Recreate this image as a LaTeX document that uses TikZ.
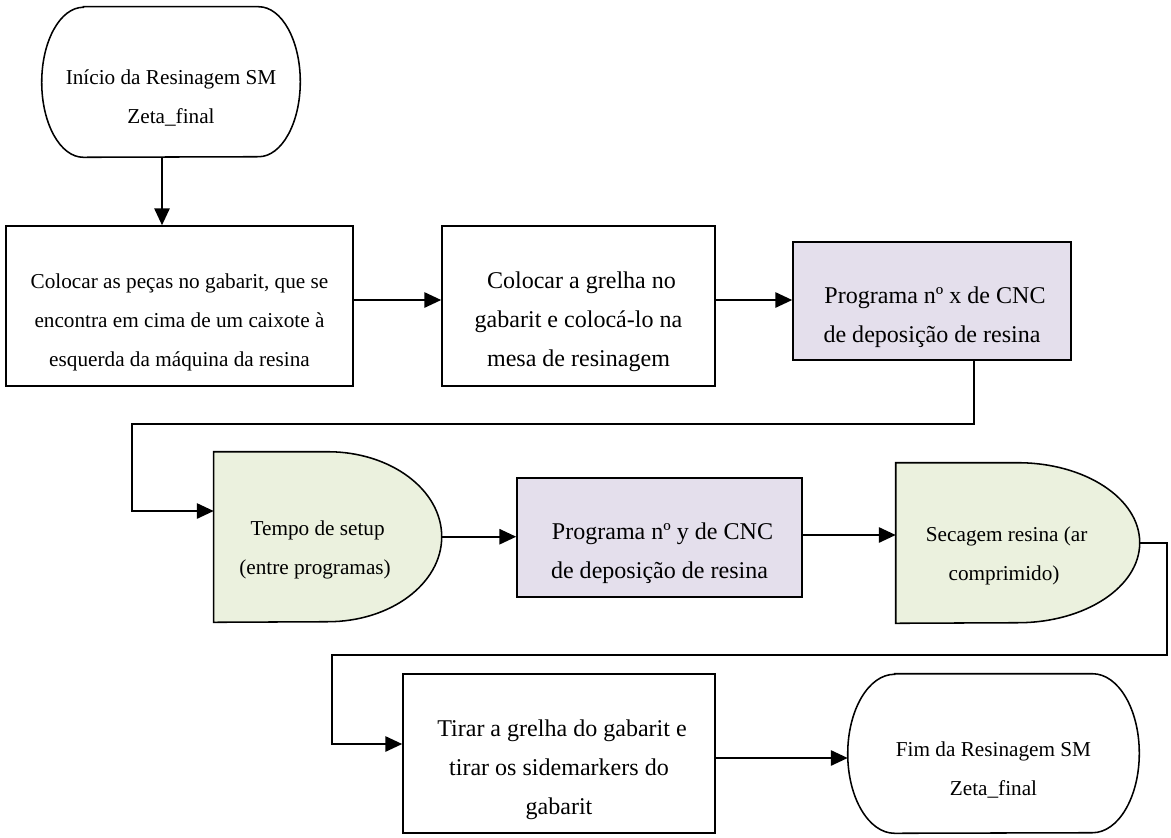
\documentclass[tikz,border=0pt]{standalone}
\usepackage{fontspec}
\setmainfont{Liberation Serif}
\usetikzlibrary{arrows.meta,backgrounds}

\definecolor{cnclilac}{RGB}{228,223,236}
\definecolor{waitgreen}{RGB}{235,241,222}
% pushes the lines of a box a bit below its middle
\newcommand\toppad[1][1.17cm]{\rule{0pt}{#1}}

\begin{document}
\begin{tikzpicture}[
    font=\fontsize{15.1pt}{27.7pt}\selectfont,
    bigtext/.style={font=\fontsize{17.1pt}{27.7pt}\selectfont},
    term/.style={align=center},
    termshape/.style={draw, line width=1.1pt, fill=white},
    proc/.style={draw, line width=1.1pt, align=center},
    cnc/.style={proc, bigtext, fill=cnclilac},
    wait/.style={align=center},
    waitshape/.style={draw, line width=1.1pt, fill=waitgreen},
    flow/.style={line width=1.4pt, -{Triangle[length=0.42cm,width=0.38cm]}}
]
    \useasboundingbox (0,0) rectangle (29.275,-20.925);

    \node[term, minimum width=6.45cm, minimum height=3.75cm] at (4.275,-2.05)(start){\toppad Início da Resinagem SM\\Zeta\_final};
    \node[proc, minimum width=8.675cm, minimum height=4cm] at (4.4875,-7.65)(box1){\toppad Colocar as peças no gabarit, que se\\encontra em cima de um caixote à\\esquerda da máquina da resina};
    \node[proc, bigtext, minimum width=6.825cm, minimum height=4cm] at (14.4625,-7.65)(box2){\toppad[1.22cm] Colocar a grelha no\\gabarit e colocá-lo na\\mesa de resinagem};
    \node[cnc, minimum width=6.95cm, minimum height=2.95cm] at (23.3,-7.525)(box3){\toppad[1.22cm] Programa nº x de CNC\\de deposição de resina};
    \node[wait, minimum width=5.05cm, minimum height=4.25cm] at (7.875,-13.425)(delay1){\toppad[1.01cm] Tempo de setup\\(entre programas)};
    \node[cnc, minimum width=7.125cm, minimum height=2.975cm] at (16.4875,-13.4375)(box4){\toppad[1.22cm] Programa nº y de CNC\\de deposição de resina};
    \node[wait, minimum width=5.4cm, minimum height=4cm] at (25.1,-13.575)(delay2){\toppad[1.01cm] Secagem resina (ar\\comprimido)};
    \node[proc, bigtext, minimum width=7.8cm, minimum height=3.975cm] at (13.975,-18.8375)(box5){\toppad[1.22cm] Tirar a grelha do gabarit e\\tirar os sidemarkers do\\gabarit};
    \node[term, minimum width=7.275cm, minimum height=3.975cm] at (24.8375,-18.8375)(end){\toppad Fim da Resinagem SM\\Zeta\_final};

    % outlines of the terminators and delays, behind their text
    \begin{pgfonlayer}{background}
        \draw[termshape] ([xshift=1.04cm]start.north west) -- ([xshift=-1.04cm]start.north east)
            arc[start angle=90, end angle=-90, x radius=1.04cm, y radius=1.875cm]
            -- ([xshift=1.04cm]start.south west)
            arc[start angle=270, end angle=90, x radius=1.04cm, y radius=1.875cm] -- cycle;
        \draw[termshape] ([xshift=1.17cm]end.north west) -- ([xshift=-1.17cm]end.north east)
            arc[start angle=90, end angle=-90, x radius=1.17cm, y radius=1.9875cm]
            -- ([xshift=1.17cm]end.south west)
            arc[start angle=270, end angle=90, x radius=1.17cm, y radius=1.9875cm] -- cycle;
        \draw[waitshape] (delay1.north west) -- ++(2.85,0)
            arc[start angle=90, end angle=0, x radius=2.85cm, y radius=2.125cm] coordinate (delay1r)
            arc[start angle=0, end angle=-90, x radius=2.85cm, y radius=2.125cm]
            -- (delay1.south west) -- cycle;
        \draw[waitshape] (delay2.north west) -- ++(3.05,0)
            arc[start angle=90, end angle=0, x radius=3.05cm, y radius=2cm] coordinate (delay2r)
            arc[start angle=0, end angle=-90, x radius=3.05cm, y radius=2cm]
            -- (delay2.south west) -- cycle;
    \end{pgfonlayer}

    \coordinate (j1) at (3.3,-10.6);
    \coordinate (r2) at (29.175,-16.375);
    \coordinate (j2) at (8.3,-16.375);

    \draw[flow] ([xshift=-0.225cm]start.south) -- ([xshift=-0.225cm]start.south |- box1.north);
    \draw[flow] ([yshift=0.15cm]box1.east) -- ([yshift=0.15cm]box1.east -| box2.west);
    \draw[flow] ([yshift=0.15cm]box2.east) -- ([yshift=0.15cm]box2.east -| box3.west);
    \draw[flow] ([xshift=1.05cm]box3.south) |- (j1) |- ([yshift=0.65cm]delay1.west);
    \draw[flow] (delay1r) -- (delay1r -| box4.west);
    \draw[flow] ([yshift=0.0625cm]box4.east) -- ([yshift=0.0625cm]box4.east -| delay2.west);
    \draw[flow] (delay2r) -| (r2) -- (j2) |- ([yshift=0.2375cm]box5.west);
    \draw[flow] ([yshift=-0.1125cm]box5.east) -- ([yshift=-0.1125cm]box5.east -| end.west);
\end{tikzpicture}
\end{document}
